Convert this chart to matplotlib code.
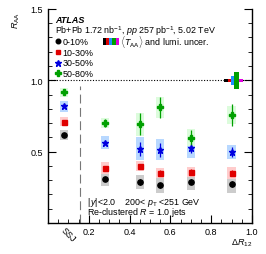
import matplotlib
matplotlib.use("Agg")
import matplotlib.pyplot as plt
from matplotlib.patches import Rectangle
from matplotlib.ticker import MultipleLocator, FixedLocator

plt.rcParams['font.family'] = ['Liberation Sans', 'DejaVu Sans']
plt.rcParams['mathtext.fontset'] = 'custom'
plt.rcParams['mathtext.rm'] = 'Liberation Sans'
plt.rcParams['mathtext.it'] = 'Liberation Sans:italic'
plt.rcParams['mathtext.bf'] = 'Liberation Sans:bold'

# Data
dr12 = [0.28, 0.45, 0.55, 0.70, 0.90]
ssj_x = 0.08
centralities = ['0-10%', '10-30%', '30-50%', '50-80%']
ssj_vals = [0.62, 0.71, 0.817, 0.915]
ssj_sys = [0.035, 0.03, 0.04, 0.03]
ssj_stat = [0.01, 0.01, 0.012, 0.012]
raa = [
    [0.31, 0.285, 0.263, 0.29, 0.275],
    [0.384, 0.40, 0.35, 0.36, 0.351],
    [0.563, 0.521, 0.514, 0.524, 0.496],
    [0.70, 0.693, 0.81, 0.598, 0.756],
]
stat = [
    [0.015, 0.02, 0.02, 0.02, 0.02],
    [0.012, 0.015, 0.02, 0.015, 0.02],
    [0.015, 0.049, 0.05, 0.035, 0.035],
    [0.03, 0.078, 0.075, 0.055, 0.075],
]
sys = [
    [0.05, 0.048, 0.055, 0.06, 0.065],
    [0.04, 0.035, 0.035, 0.035, 0.04],
    [0.047, 0.08, 0.075, 0.07, 0.05],
    [0.035, 0.08, 0.075, 0.06, 0.065],
]
norm_unc = [0.012, 0.012, 0.03, 0.058, 0.012]  # lumi, TAA 0-10,10-30,30-50,50-80

colors = ['black', '#e00000', '#0000e0', '#00a000']
boxcols = ['#cccccc', '#ffcccc', '#b8d8ff', '#dcfcdc']
markers = ['o', 's', '*', 'P']
msizes = [3.8, 3.6, 5.0, 5.0]
norm_cols = ['black', '#e00000', '#1e90ff', '#00a000', '#e000e0']

fig = plt.figure(figsize=(2.66, 2.55), dpi=100)
ax = fig.add_axes([0.1805, 0.1216, 0.7665, 0.8394])
ax.set_xlim(0, 1.0)
ax.set_ylim(0, 1.5)

bw = 0.04
for i in range(4):
    xs = [ssj_x] + dr12
    ys = [ssj_vals[i]] + raa[i]
    ss = [ssj_sys[i]] + sys[i]
    st = [ssj_stat[i]] + stat[i]
    for x, y, s in zip(xs, ys, ss):
        ax.add_patch(Rectangle((x - bw / 2, y - s), bw, 2 * s, facecolor=boxcols[i],
                               edgecolor='none', zorder=1))
    ax.errorbar(xs, ys, yerr=st, fmt=markers[i], color=colors[i], ms=msizes[i],
                elinewidth=0.9, capsize=0, zorder=3)

# normalisation boxes
nx = [0.865, 0.885, 0.897, 0.912, 0.935]
nw = [0.02, 0.012, 0.015, 0.023, 0.02]
for x, w, u, c in zip(nx, nw, norm_unc, norm_cols):
    ax.add_patch(Rectangle((x, 1 - u), w, 2 * u, facecolor=c, edgecolor='none', zorder=2))

ax.axhline(1.0, color='black', ls=(0, (1, 1.5)), lw=0.8, zorder=1.5)
ax.plot([0.155, 0.155], [0, 0.96], color='#777777', ls=(0, (8, 4)), lw=0.8)

ax.spines['top'].set_visible(False)
for s in ['left', 'right', 'bottom']:
    ax.spines[s].set_linewidth(1.0)
ax.xaxis.set_major_locator(FixedLocator([0.2, 0.4, 0.6, 0.8, 1.0]))
ax.xaxis.set_minor_locator(MultipleLocator(0.05))
ax.yaxis.set_major_locator(FixedLocator([0.5, 1.0, 1.5]))
ax.yaxis.set_minor_locator(MultipleLocator(0.1))
ax.tick_params(which='both', direction='in', right=True, top=False, labelsize=6.5)
ax.tick_params(which='major', length=6)
ax.tick_params(which='minor', length=3)
ax.tick_params(axis='x', pad=3)

tf = ax.transAxes
ax.text(0.1, -0.01, 'SSJ', rotation=-45, ha='center', va='top', fontsize=6.5,
        transform=tf)

ax.text(-0.157, 0.95, r'$R_{\mathrm{AA}}$', fontsize=6.5, rotation=90,
        transform=tf, ha='center', va='center')
ax.text(1.0, -0.089, r'$\Delta R_{12}$', fontsize=6.5, transform=tf,
        ha='right', va='center')

ax.text(0.036, 0.953, 'ATLAS', fontsize=6.5, fontweight='bold', fontstyle='italic',
        transform=tf, va='center')
ax.text(0.036, 0.899, r'Pb+Pb 1.72 nb$^{-1}$, $pp$ 257 pb$^{-1}$, 5.02 TeV', fontsize=6.4,
        transform=tf, va='center')
ly = [0.848, 0.798, 0.748, 0.699]
for i in range(4):
    ax.plot([0.05], [ly[i]], marker=markers[i], color=colors[i], ms=msizes[i] - 0.5,
            transform=tf, clip_on=False)
    ax.text(0.072, ly[i], centralities[i], fontsize=6.4, transform=tf, va='center')
# T_AA legend bar
lx = 0.271
lws = [0.014, 0.014, 0.016, 0.016, 0.016]
for w, c in zip(lws, norm_cols):
    ax.add_patch(Rectangle((lx, ly[0] - 0.016), w, 0.032, facecolor=c, edgecolor='none',
                           transform=tf))
    lx += w
ax.text(lx + 0.005, ly[0], r'$\langle T_{\mathrm{AA}}\rangle$ and lumi. uncer.', fontsize=6.4,
        transform=tf, va='center')

ax.text(0.19, 0.1, r'$|\,y|$<2.0    200< $p_{\mathrm{T}}$ <251 GeV', fontsize=6.4,
        transform=tf, va='center', ha='left')
ax.text(0.19, 0.053, r'Re-clustered $R$ = 1.0 jets', fontsize=6.4, transform=tf,
        va='center', ha='left')

fig.savefig('out.png', dpi=100)
